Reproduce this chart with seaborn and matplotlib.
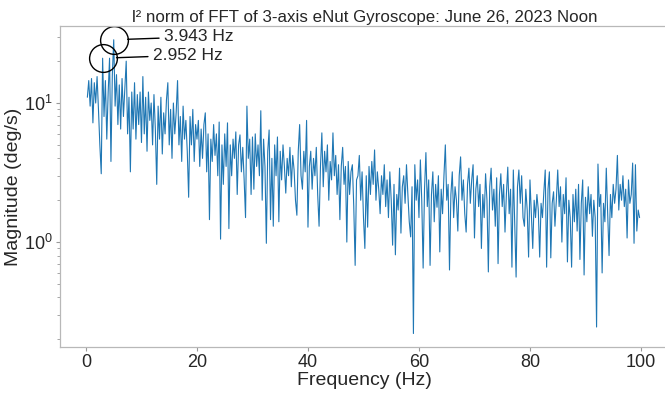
import numpy as np
import pandas as pd
import matplotlib
matplotlib.use("Agg")
import matplotlib.pyplot as plt
import seaborn as sns

# ---------------- data ----------------
freq_step = 0.25  # Hz
mag_00_10 = [11.0, 14.5, 9.5, 15.0, 7.2, 14.0, 10.0, 15.5, 9.0, 5.0,
             3.1, 21.0, 8.0, 14.5, 5.5, 12.0, 21.0, 3.8, 16.0, 28.5,
             9.5, 16.0, 7.0, 13.5, 6.5, 15.0, 8.0, 12.5, 20.0, 6.0,
             11.0, 3.2, 12.0, 6.5, 14.0, 5.5, 11.5, 7.0, 12.0, 5.2]
mag_10_20 = [15.5, 6.0, 11.0, 4.5, 12.0, 7.5, 10.0, 5.0, 11.5, 6.5,
             2.6, 9.5, 5.5, 11.0, 4.3, 8.5, 6.0, 10.5, 14.0, 5.0,
             9.0, 4.0, 10.0, 6.0, 8.5, 14.5, 5.0, 8.0, 3.8, 9.5,
             5.5, 7.5, 4.5, 2.1, 8.0, 5.0, 9.0, 3.8, 7.0, 5.5]
mag_20_30 = [7.5, 3.5, 6.5, 4.0, 7.0, 8.5, 3.2, 6.0, 1.45, 5.5,
             3.8, 7.0, 4.2, 6.0, 3.0, 7.3, 1.05, 5.0, 2.6, 6.0,
             3.5, 7.2, 1.25, 5.0, 3.0, 5.5, 4.0, 6.2, 2.2, 5.0,
             5.9, 3.2, 4.8, 2.8, 1.5, 9.5, 4.0, 5.5, 2.2, 5.7]
mag_30_40 = [2.4, 6.0, 3.5, 5.0, 3.0, 8.8, 2.0, 5.5, 3.5, 0.98,
             4.5, 6.4, 1.45, 4.0, 1.3, 5.0, 3.0, 5.7, 1.4, 4.5,
             2.8, 5.0, 3.5, 2.25, 4.0, 3.0, 4.8, 2.5, 4.2, 3.3,
             2.0, 1.56, 4.5, 7.0, 3.0, 2.4, 4.5, 3.2, 7.5, 1.28]
mag_40_50 = [3.5, 4.5, 2.4, 4.0, 3.0, 4.8, 2.2, 1.3, 3.5, 6.1,
             2.5, 4.5, 3.2, 5.0, 2.0, 3.8, 2.8, 6.1, 3.0, 4.2,
             2.2, 3.6, 1.45, 3.5, 4.8, 2.6, 3.5, 1.0, 3.8, 2.2,
             3.2, 3.6, 1.8, 0.68, 2.8, 3.0, 4.2, 2.0, 3.2, 1.5]
mag_50_60 = [0.9, 3.0, 1.28, 3.5, 2.2, 3.8, 2.6, 4.6, 2.0, 3.2,
             2.4, 1.6, 3.0, 2.2, 3.6, 1.8, 2.8, 1.5, 3.2, 2.0,
             0.95, 2.6, 0.81, 2.2, 1.7, 3.4, 1.16, 2.5, 3.0, 1.9,
             3.6, 2.2, 1.4, 1.09, 2.5, 0.22, 3.6, 2.0, 2.8, 1.5]
mag_60_70 = [3.9, 2.0, 0.65, 2.4, 4.4, 1.8, 2.8, 0.68, 2.2, 3.2,
             1.4, 2.6, 1.78, 3.0, 0.85, 2.4, 1.6, 3.0, 5.0, 2.0,
             2.6, 0.63, 2.2, 3.2, 1.5, 2.5, 2.0, 1.2, 3.0, 4.1,
             2.0, 2.8, 1.6, 1.18, 2.6, 3.4, 1.9, 2.8, 3.6, 1.07]
mag_70_80 = [2.4, 3.0, 1.8, 2.6, 0.9, 2.2, 1.5, 3.1, 2.0, 0.61,
             2.5, 3.4, 1.7, 2.4, 1.3, 2.9, 0.7, 2.2, 3.1, 1.8,
             2.6, 1.18, 2.2, 3.46, 1.6, 2.4, 0.66, 3.3, 1.4, 0.56,
             2.5, 3.3, 1.9, 3.0, 1.5, 1.3, 2.4, 1.7, 0.78, 2.8]
mag_80_90 = [1.6, 0.9, 2.0, 1.5, 2.2, 1.7, 0.78, 1.9, 1.5, 2.3,
             3.3, 0.66, 2.4, 3.2, 0.77, 1.9, 2.3, 1.3, 2.0, 3.3,
             1.8, 2.5, 1.0, 2.2, 1.6, 2.9, 0.72, 2.0, 1.5, 0.66,
             2.2, 1.4, 2.4, 1.2, 2.6, 0.75, 1.9, 2.8, 0.58, 2.1]
mag_90_100 = [1.4, 2.5, 1.6, 2.2, 1.1, 2.0, 1.5, 0.245, 3.64, 1.8,
              2.2, 0.6, 1.9, 1.4, 3.4, 1.6, 0.8, 2.2, 1.5, 2.6,
              1.9, 2.4, 4.2, 1.7, 2.6, 2.0, 3.0, 1.8, 2.4, 1.07,
              2.8, 1.9, 2.2, 3.7, 0.98, 3.6, 1.2, 1.7, 1.5]

peak_freqs = [5.0, 3.0]
peak_mags = [28.5, 21.0]
peak_labels = ["3.943 Hz", "2.952 Hz"]

title = "l\u00b2 norm of FFT of 3-axis eNut Gyroscope: June 26, 2023 Noon"
xlabel = "Frequency (Hz)"
ylabel = "Magnitude (deg/s)"

# ---------------- assemble ----------------
mag = np.array(mag_00_10 + mag_10_20 + mag_20_30 + mag_30_40 + mag_40_50 +
               mag_50_60 + mag_60_70 + mag_70_80 + mag_80_90 + mag_90_100)
freq = np.arange(1, len(mag) + 1) * freq_step
df = pd.DataFrame({"freq": freq, "mag": mag})

sns.set_style("white")
plt.rcParams["font.family"] = ["Liberation Sans", "DejaVu Sans"]
plt.rcParams["mathtext.fontset"] = "custom"
plt.rcParams["mathtext.rm"] = "Liberation Sans"
plt.rcParams["mathtext.it"] = "Liberation Sans:italic"
plt.rcParams["mathtext.bf"] = "Liberation Sans:bold"

fig = plt.figure(figsize=(6.65, 3.93), dpi=100)
ax = fig.add_axes([60 / 665, 46 / 393, (669 - 60) / 665, (347 - 26) / 393])

sns.lineplot(data=df, x="freq", y="mag", ax=ax, color="#1f77b4",
             linewidth=0.8, estimator=None)
ax.set_yscale("log")
ax.set_xlim(-4.68, 105.05)
ax.set_ylim(0.176, 35.8)

ax.set_xticks([0, 20, 40, 60, 80, 100])
ax.tick_params(axis="both", which="major", labelsize=13, colors="0.15",
               length=3, width=0.8, pad=2)
ax.tick_params(axis="both", which="both", color="0.6")
ax.tick_params(axis="y", which="minor", length=2, width=0.6, left=True)
ax.tick_params(axis="x", bottom=True)
ax.tick_params(axis="y", left=True)
for s in ax.spines.values():
    s.set_color("0.72")
    s.set_linewidth(0.9)

ax.set_xlabel(xlabel, fontsize=14, labelpad=1)
ax.set_ylabel(ylabel, fontsize=14, labelpad=2)
ax.set_title(title, fontsize=12.2, pad=3)

for f, m, lab in zip(peak_freqs, peak_mags, peak_labels):
    ax.plot([f], [m], marker="o", ms=20, mfc="none", mec="black", mew=1.0,
            linestyle="none")
    ax.annotate(lab, xy=(f, m), xytext=(50, 3), textcoords="offset pixels",
                ha="left", va="center", fontsize=12.5,
                arrowprops=dict(arrowstyle="-", color="black", lw=1.0,
                                shrinkA=1, shrinkB=10))

fig.savefig("out.png", dpi=100)
